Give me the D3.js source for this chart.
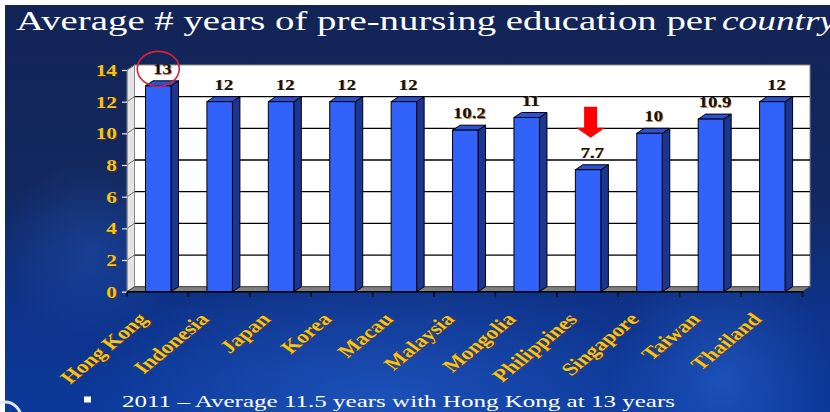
<!DOCTYPE html>
<html>
<head>
<meta charset="utf-8">
<script src="https://cdn.jsdelivr.net/npm/d3@7"></script>
<style>
  body { margin: 0; padding: 0; background: #fff; }
  svg { display: block; }
  text { font-family: 'Liberation Serif', 'Times New Roman', serif; }
</style>
</head>
<body>
<script>
const countries = ['Hong Kong', 'Indonesia', 'Japan', 'Korea', 'Macau', 'Malaysia',
  'Mongolia', 'Philippines', 'Singapore', 'Taiwan', 'Thailand'];
const years = [13, 12, 12, 12, 12, 10.2, 11, 7.7, 10, 10.9, 12];
const yTicks = [0, 2, 4, 6, 8, 10, 12, 14];
const titleText = 'Average # years of pre-nursing education per';
const titleItalic = 'country';
const noteText = '2011 \u2013 Average 11.5 years with Hong Kong at 13 years';

const w = 830;
const h = 412;
const gold = '#f4c41e';
const dx = 7.5, dy = -5; // 3d depth offset

const data = countries.map((c, i) => ({ name: c, value: years[i] }));

const svg = d3.select('body')
  .append('svg')
  .attr('width', w)
  .attr('height', h);

const defs = svg.append('defs');
const bg = defs.append('linearGradient')
  .attr('id', 'bg').attr('x1', 0).attr('y1', 0).attr('x2', 0).attr('y2', 1);
bg.append('stop').attr('offset', '0%').attr('stop-color', '#132456');
bg.append('stop').attr('offset', '45%').attr('stop-color', '#12285f');
bg.append('stop').attr('offset', '75%').attr('stop-color', '#0e338a');
bg.append('stop').attr('offset', '100%').attr('stop-color', '#0b399a');
const glow = defs.append('radialGradient').attr('id', 'glow');
glow.append('stop').attr('offset', '0%').attr('stop-color', '#2f6fe0').attr('stop-opacity', 0.45);
glow.append('stop').attr('offset', '100%').attr('stop-color', '#2f6fe0').attr('stop-opacity', 0);

//background with white border at top and left
svg.append('rect').attr('width', w).attr('height', h).attr('fill', '#ffffff');
svg.append('rect')
  .attr('x', 5).attr('y', 5)
  .attr('width', w - 5).attr('height', h - 5)
  .attr('fill', 'url(#bg)');

//soft swirl glows in the background
svg.append('ellipse').attr('cx', 380).attr('cy', 400).attr('rx', 300).attr('ry', 130).attr('fill', 'url(#glow)');
svg.append('ellipse').attr('cx', 720).attr('cy', 380).attr('rx', 110).attr('ry', 120).attr('fill', 'url(#glow)');
svg.append('ellipse').attr('cx', 90).attr('cy', 250).attr('rx', 90).attr('ry', 90).attr('fill', 'url(#glow)').attr('opacity', 0.6);

//logo fragment at bottom left
svg.append('circle').attr('cx', 5).attr('cy', 418).attr('r', 16)
  .attr('fill', 'none').attr('stroke', '#dfe6f3').attr('stroke-width', 3);

//scales
const xScale = d3.scaleBand().domain(countries).range([127, 802.5]);
const yScale = d3.scaleLinear().domain([0, 14]).range([291.7, 70]);
const x0 = xScale.range()[0], x1 = xScale.range()[1];
const yb = yScale(0), yt = yScale(14);

//side wall, back wall, floor
svg.append('polygon')
  .attr('points', [[x0, yt], [x0 + dx, yt + dy], [x0 + dx, yb + dy], [x0, yb]].join(' '))
  .attr('fill', '#e4e4e4').attr('stroke', '#9a9a9a').attr('stroke-width', 0.8);
svg.append('rect')
  .attr('x', x0 + dx).attr('y', yt + dy)
  .attr('width', x1 - x0).attr('height', yb - yt)
  .attr('fill', '#ffffff').attr('stroke', '#8c8c8c').attr('stroke-width', 1);
svg.append('polygon')
  .attr('points', [[x0, yb], [x0 + dx, yb + dy], [x1 + dx, yb + dy], [x1, yb]].join(' '))
  .attr('fill', '#7f7f7f').attr('stroke', '#333').attr('stroke-width', 0.8);

//gridlines on back wall and side wall
const grid = svg.append('g');
grid.selectAll('line.back')
  .data(yTicks.filter(v => v > 0 && v < 14))
  .enter().append('line')
  .attr('class', 'back')
  .attr('x1', x0 + dx).attr('x2', x1 + dx)
  .attr('y1', v => yScale(v) + dy).attr('y2', v => yScale(v) + dy)
  .attr('stroke', '#000').attr('stroke-width', 1.3);
grid.selectAll('line.side')
  .data(yTicks.filter(v => v > 0))
  .enter().append('line')
  .attr('class', 'side')
  .attr('x1', x0).attr('x2', x0 + dx)
  .attr('y1', v => yScale(v)).attr('y2', v => yScale(v) + dy)
  .attr('stroke', '#555').attr('stroke-width', 0.8);

//3d bars
const barOff = 18.5;
const barW = 25.5;
const bars = svg.append('g');
const bar = bars.selectAll('g.bar')
  .data(data)
  .enter().append('g')
  .attr('class', 'bar');
bar.append('polygon') //side face
  .attr('points', d => {
    const xr = xScale(d.name) + barOff + barW;
    const yv = yScale(d.value);
    return [[xr, yv], [xr + dx, yv + dy], [xr + dx, yb + dy], [xr, yb]].join(' ');
  })
  .attr('fill', '#1b3592').attr('stroke', '#000').attr('stroke-width', 1);
bar.append('polygon') //top face
  .attr('points', d => {
    const xl = xScale(d.name) + barOff;
    const yv = yScale(d.value);
    return [[xl, yv], [xl + dx, yv + dy], [xl + barW + dx, yv + dy], [xl + barW, yv]].join(' ');
  })
  .attr('fill', '#2a52d6').attr('stroke', '#000').attr('stroke-width', 1);
bar.append('rect') //front face
  .attr('x', d => xScale(d.name) + barOff)
  .attr('y', d => yScale(d.value))
  .attr('width', barW)
  .attr('height', d => yb - yScale(d.value))
  .attr('fill', '#3163fb').attr('stroke', '#000').attr('stroke-width', 1);

//y axis
const yAxis = d3.axisLeft(yScale).tickValues(yTicks).tickSize(5).tickFormat(d3.format('d'));
const yG = svg.append('g')
  .attr('transform', `translate(${x0}, 0)`)
  .call(yAxis);
yG.select('.domain').attr('stroke', '#9a9a9a');
yG.selectAll('.tick line').attr('stroke', '#e8e8e8').attr('stroke-width', 1.2);
yG.selectAll('.tick text').remove();
const yLab = svg.append('g')
  .attr('font-family', 'Liberation Serif, serif')
  .attr('font-weight', 'bold')
  .attr('font-size', 17.5);
yTicks.forEach(v => {
  const g = yLab.append('g').attr('transform', `translate(117, ${yScale(v) + 6}) scale(1.22, 1)`);
  g.append('text').attr('x', 0.8).attr('y', 0.8)
    .attr('text-anchor', 'end').attr('fill', '#5a2e10').text(v);
  g.append('text')
    .attr('text-anchor', 'end').attr('fill', gold).text(v);
});

//x axis line and tick marks at band edges
svg.append('line')
  .attr('x1', x0).attr('x2', x1).attr('y1', yb).attr('y2', yb)
  .attr('stroke', '#000').attr('stroke-width', 1.5);
const edges = countries.map(c => xScale(c)).concat([x1]);
svg.selectAll('line.xtick')
  .data(edges)
  .enter().append('line')
  .attr('class', 'xtick')
  .attr('x1', d => d).attr('x2', d => d)
  .attr('y1', yb).attr('y2', yb + 5)
  .attr('stroke', '#000').attr('stroke-width', 1.3);

//rotated country labels
const xLab = svg.append('g')
  .attr('font-family', 'Liberation Serif, serif')
  .attr('font-weight', 'bold')
  .attr('font-size', 18);
data.forEach(d => {
  const cx = xScale(d.name) + xScale.bandwidth() / 2 - 9;
  const g = xLab.append('g').attr('transform', `translate(${cx}, 320) scale(1.3, 1) rotate(-47)`);
  g.append('text').attr('x', 0.8).attr('y', 0.8)
    .attr('text-anchor', 'end').attr('fill', '#5a2e10').text(d.name);
  g.append('text')
    .attr('text-anchor', 'end').attr('fill', gold).text(d.name);
});

//value labels above bars
const vLab = svg.append('g')
  .attr('font-family', 'Liberation Serif, serif')
  .attr('font-weight', 'bold')
  .attr('font-size', 15);
data.forEach(d => {
  const cx = xScale(d.name) + barOff + barW / 2 + 4;
  const g = vLab.append('g').attr('transform', `translate(${cx}, ${yScale(d.value) - 12}) scale(1.25, 1)`);
  g.append('text').attr('x', 0.7).attr('y', 0.7)
    .attr('text-anchor', 'middle').attr('fill', '#c9803c').text(d.value);
  g.append('text')
    .attr('text-anchor', 'middle').attr('fill', '#141414').text(d.value);
});

//red circle round the highest value
const hk = data[0];
svg.append('ellipse')
  .attr('cx', xScale(hk.name) + barOff + barW / 2)
  .attr('cy', yScale(hk.value) - 17)
  .attr('rx', 21).attr('ry', 17.5)
  .attr('fill', 'none').attr('stroke', '#d8203a').attr('stroke-width', 1.6);

//red arrow pointing to the lowest value
const ph = data[7];
const ax = xScale(ph.name) + barOff + barW / 2 + 2.5;
const ay = yScale(ph.value) - 32;
svg.append('polygon')
  .attr('points', [[ax - 6.5, ay - 31], [ax + 6.5, ay - 31], [ax + 6.5, ay - 10],
    [ax + 14.5, ay - 10], [ax, ay], [ax - 14.5, ay - 10], [ax - 6.5, ay - 10]].join(' '))
  .attr('fill', '#ff0000');

//title
const title = svg.append('g')
  .attr('font-family', 'Liberation Serif, serif')
  .attr('font-size', 27)
  .attr('fill', '#ffffff');
title.append('text')
  .attr('x', 16).attr('y', 30)
  .attr('textLength', 700).attr('lengthAdjust', 'spacingAndGlyphs')
  .text(titleText);
title.append('text')
  .attr('x', 722).attr('y', 30)
  .attr('font-style', 'italic')
  .attr('textLength', 114).attr('lengthAdjust', 'spacingAndGlyphs')
  .text(titleItalic);

//bullet note at the bottom
svg.append('rect')
  .attr('x', 84).attr('y', 396.5).attr('width', 7).attr('height', 6)
  .attr('fill', '#ffffff');
svg.append('text')
  .attr('x', 122).attr('y', 406.5)
  .attr('fill', '#ffffff')
  .attr('font-family', 'Liberation Serif, serif')
  .attr('font-size', 17.5)
  .attr('textLength', 553).attr('lengthAdjust', 'spacingAndGlyphs')
  .text(noteText);
</script>
</body>
</html>
